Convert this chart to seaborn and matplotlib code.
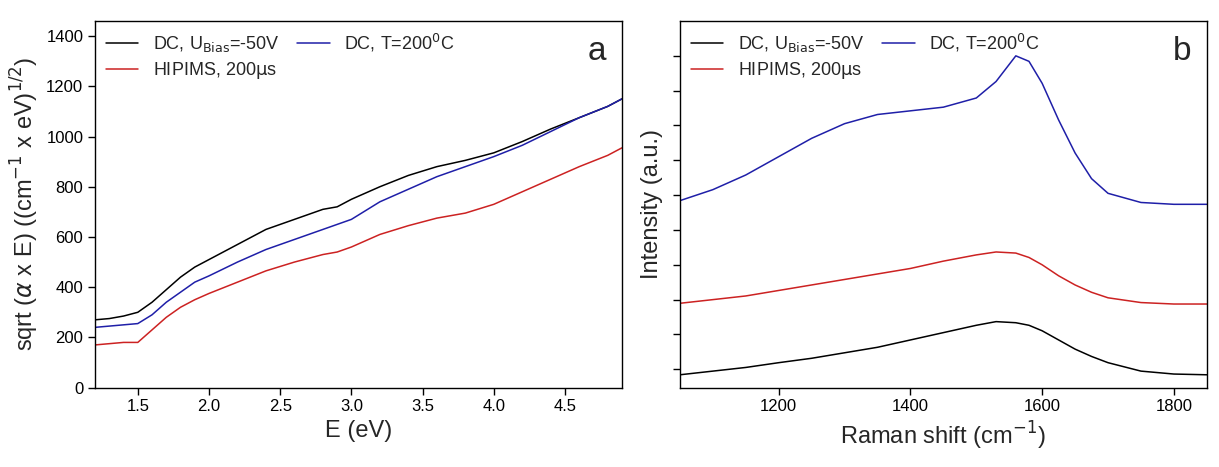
import matplotlib
matplotlib.use("Agg")
import matplotlib.pyplot as plt
import seaborn as sns

sns.set_theme(style="white")
plt.rcParams['font.family'] = ['Liberation Sans', 'DejaVu Sans']

# Panel a
e_vals = [1.2, 1.3, 1.4, 1.5, 1.6, 1.7, 1.8, 1.9, 2.0, 2.2, 2.4, 2.6, 2.8, 2.9, 3.0, 3.2, 3.4, 3.6, 3.8, 4.0, 4.2, 4.4, 4.6, 4.8, 4.9]
a_black = [270, 275, 285, 300, 340, 390, 440, 480, 510, 570, 630, 670, 710, 720, 750, 800, 845, 880, 905, 935, 980, 1030, 1075, 1120, 1150]
a_blue = [240, 245, 250, 255, 290, 340, 380, 420, 445, 500, 550, 590, 630, 650, 670, 740, 790, 840, 880, 920, 965, 1020, 1075, 1120, 1150]
a_red = [170, 175, 180, 180, 230, 280, 320, 350, 375, 420, 465, 500, 530, 540, 560, 610, 645, 675, 695, 730, 780, 830, 880, 925, 955]

# Panel b
raman = [1050, 1100, 1150, 1200, 1250, 1300, 1350, 1400, 1450, 1500, 1530, 1560, 1580, 1600, 1625, 1650, 1675, 1700, 1750, 1800, 1850]
b_black = [0.035, 0.045, 0.055, 0.068, 0.08, 0.095, 0.11, 0.13, 0.15, 0.17, 0.18, 0.177, 0.17, 0.155, 0.13, 0.105, 0.085, 0.068, 0.045, 0.037, 0.035]
b_red = [0.23, 0.24, 0.25, 0.265, 0.28, 0.295, 0.31, 0.325, 0.345, 0.362, 0.37, 0.367, 0.355, 0.335, 0.305, 0.28, 0.26, 0.245, 0.232, 0.228, 0.228]
b_blue = [0.51, 0.54, 0.58, 0.63, 0.68, 0.72, 0.745, 0.755, 0.765, 0.79, 0.835, 0.905, 0.89, 0.83, 0.73, 0.64, 0.57, 0.53, 0.505, 0.50, 0.50]

labels = ["DC, U$_{\\mathrm{Bias}}$=-50V", "DC, T=200$^{0}$C", "HIPIMS, 200$\\mathrm{\\mu}$s"]
colors = ["black", "#1f1fa8", "#cc2222"]

fig, (ax1, ax2) = plt.subplots(1, 2, figsize=(12.19, 4.67), dpi=100)
fig.subplots_adjust(left=0.078, right=0.99, top=0.955, bottom=0.17, wspace=0.11)

for y, lab, c in zip([a_black, a_blue, a_red], labels, colors):
    sns.lineplot(x=e_vals, y=y, ax=ax1, color=c, label=lab, linewidth=1.1)
for y, lab, c in zip([b_black, b_blue, b_red], labels, colors):
    sns.lineplot(x=raman, y=y, ax=ax2, color=c, label=lab, linewidth=1.1)

ax1.set_xlim(1.2, 4.9)
ax1.set_ylim(0, 1460)
ax1.set_xticks([1.5, 2.0, 2.5, 3.0, 3.5, 4.0, 4.5])
ax1.set_yticks(range(0, 1401, 200))
ax1.set_xlabel("E (eV)", fontsize=17)
ax1.set_ylabel("sqrt ($\\alpha$ x E) ((cm$^{-1}$ x eV)$^{1/2}$)", fontsize=17)
ax1.text(0.97, 0.96, "a", transform=ax1.transAxes, fontsize=24, ha="right", va="top")

ax2.set_xlim(1050, 1850)
ax2.set_ylim(0, 1)
ax2.set_xticks([1200, 1400, 1600, 1800])
ax2.set_yticks([0.05 + 0.095 * i for i in range(10)])
ax2.set_yticklabels([])
ax2.set_xlabel("Raman shift (cm$^{-1}$)", fontsize=17)
ax2.set_ylabel("Intensity (a.u.)", fontsize=17)
ax2.text(0.97, 0.96, "b", transform=ax2.transAxes, fontsize=24, ha="right", va="top")

for ax in (ax1, ax2):
    for s in ax.spines.values():
        s.set_color("black"); s.set_linewidth(1.0)
    ax.tick_params(direction="out", length=5, width=1, labelsize=12, colors="black", bottom=True, left=True)
    h, l = ax.get_legend_handles_labels()
    order = [0, 2, 1]
    ax.legend([h[i] for i in order], [l[i] for i in order], loc="upper left", ncol=2,
              frameon=False, fontsize=13, handlelength=1.8,
              columnspacing=1.0, borderaxespad=0.2, labelspacing=0.3)

fig.savefig("out.png", dpi=100)
